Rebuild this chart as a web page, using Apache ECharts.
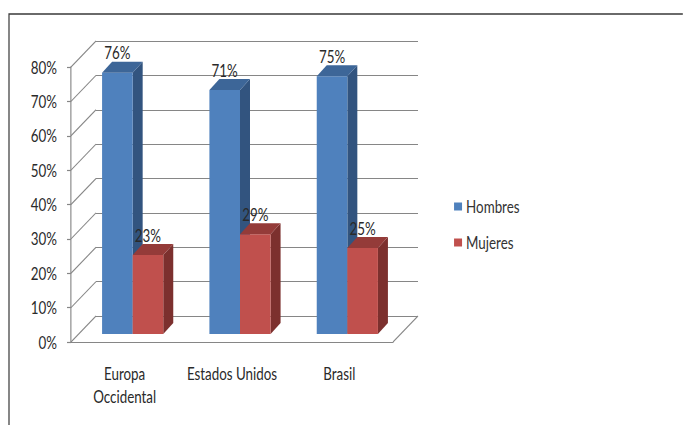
<!DOCTYPE html>
<html>
<head>
<meta charset="utf-8">
<script src="https://cdn.jsdelivr.net/npm/echarts@6/dist/echarts.min.js"></script>
<style>
  html, body { margin: 0; padding: 0; background: #fff; overflow: hidden; }
  /* the chart is laid out wide and squeezed horizontally, giving tall narrow lettering */
  #chart { width: 843px; height: 425px; transform: scaleX(0.81); transform-origin: 0 0; }
</style>
</head>
<body>
<div id="chart"></div>
<script>
// Categories and series values (percent)
const categories = ['Europa\nOccidental', 'Estados Unidos', 'Brasil'];
const hombres = [76, 71, 75];
const mujeres = [23, 29, 25];
const yTicks = [0, 10, 20, 30, 40, 50, 60, 70, 80];

const SX = 0.81;                 // horizontal squeeze applied by CSS
const px = x => x / SX;          // screen x distance -> layout x distance

const FONT = 'Lato, sans-serif';
const FONT_SIZE = 16.5;
const FONT_WEIGHT = 'normal';
const TEXT_COLOR = '#2a2a2a';
const GRID_COLOR = '#868686';
// depth of the back wall relative to the front axis plane
const WALL = [px(25), -26];
// bars sit a little behind the front plane, and have their own depth
const BAR_SHIFT = [px(8), -8];
const BAR_DEPTH = [px(10), -11];

const palette = {
  Hombres: { front: '#4F81BD', side: '#32547F', top: '#3D6698' },
  Mujeres: { front: '#C0504D', side: '#7C302E', top: '#943B39' }
};

const textStyle = { fontFamily: FONT, fontSize: FONT_SIZE, fontWeight: FONT_WEIGHT, color: TEXT_COLOR };

function bar3d(slot, colors) {
  return function (params, api) {
    const cat = api.value(0);
    const v = api.value(1);
    const base = api.coord([cat, 0]);
    const topPt = api.coord([cat, v]);
    const band = api.size([1, 0])[0];
    const w = band * 0.285;
    const cx = base[0] + BAR_SHIFT[0];
    const x0 = slot === 0 ? cx - w : cx;
    const yb = base[1] + BAR_SHIFT[1];
    const yt = topPt[1] + BAR_SHIFT[1];
    const dx = BAR_DEPTH[0], dy = BAR_DEPTH[1];
    return {
      type: 'group',
      children: [
        { type: 'polygon', shape: { points: [[x0 + w, yt], [x0 + w + dx, yt + dy], [x0 + w + dx, yb + dy], [x0 + w, yb]] },
          style: { fill: colors.side } },
        { type: 'rect', shape: { x: x0, y: yt, width: w, height: yb - yt },
          style: { fill: colors.front } },
        { type: 'polygon', shape: { points: [[x0, yt], [x0 + dx, yt + dy], [x0 + w + dx, yt + dy], [x0 + w, yt]] },
          style: { fill: colors.top } },
        { type: 'text', z2: 10, x: x0 + w / 2, y: yt - 20,
          style: { text: v + '%', align: 'center', verticalAlign: 'middle',
                   fontFamily: FONT, fontSize: FONT_SIZE, fontWeight: FONT_WEIGHT, fill: TEXT_COLOR } }
      ]
    };
  };
}

// side wall diagonals and the right edge of the floor
function wallLines(params, api) {
  const v = api.value(0);
  const cs = params.coordSys;
  const y = api.coord([0, v])[1];
  const lineStyle = { stroke: GRID_COLOR, lineWidth: 1.2 };
  const children = [
    { type: 'line', shape: { x1: cs.x, y1: y, x2: cs.x + WALL[0], y2: y + WALL[1] }, style: lineStyle }
  ];
  if (v === 0) {
    const xr = cs.x + cs.width;
    children.push({ type: 'line', shape: { x1: xr, y1: y, x2: xr + WALL[0], y2: y + WALL[1] }, style: lineStyle });
  }
  return { type: 'group', children: children };
}

const chart = echarts.init(document.getElementById('chart'), null, { renderer: 'svg' });

const front = { left: px(71), top: 67, width: px(322), height: 275 };

chart.setOption({
  backgroundColor: '#ffffff',
  animation: false,
  graphic: [
    { type: 'rect', z: -1, shape: { x: px(9), y: 14, width: 1000, height: 430 },
      style: { fill: 'none', stroke: '#3a3a3a', lineWidth: 1.5 } }
  ],
  legend: {
    orient: 'vertical',
    left: px(450),
    top: 193,
    itemWidth: px(8),
    itemHeight: 8,
    itemGap: 19,
    icon: 'rect',
    data: ['Hombres', 'Mujeres'],
    textStyle: Object.assign({}, textStyle, { color: '#333' })
  },
  grid: [
    { left: front.left, top: front.top, width: front.width, height: front.height },
    { left: front.left + WALL[0], top: front.top + WALL[1], width: front.width, height: front.height }
  ],
  xAxis: [
    {
      gridIndex: 0, type: 'category', data: categories, boundaryGap: true,
      axisLine: { lineStyle: { color: GRID_COLOR, width: 1.2 } },
      axisTick: { length: 6, lineStyle: { color: GRID_COLOR, width: 1.4 } },
      axisLabel: Object.assign({ interval: 0, margin: 20, lineHeight: 23 }, textStyle)
    },
    { gridIndex: 1, type: 'category', data: categories, show: false }
  ],
  yAxis: [
    {
      gridIndex: 0, type: 'value', min: 0, max: 80, interval: 10,
      axisLine: { show: true, lineStyle: { color: GRID_COLOR, width: 1.4 } },
      axisTick: { show: true, length: px(4), lineStyle: { color: GRID_COLOR, width: 1.2 } },
      splitLine: { show: false },
      axisLabel: Object.assign({ formatter: '{value}%', margin: px(14) }, textStyle)
    },
    {
      gridIndex: 1, type: 'value', min: 0, max: 80, interval: 10,
      axisLine: { show: false }, axisTick: { show: false }, axisLabel: { show: false },
      splitLine: { show: true, lineStyle: { color: GRID_COLOR, width: 1.2 } }
    }
  ],
  series: [
    {
      name: 'wall', type: 'custom', xAxisIndex: 0, yAxisIndex: 0, z: 1, silent: true,
      renderItem: wallLines,
      data: yTicks.map(v => [v]),
      encode: { y: 0 }
    },
    {
      name: 'Hombres', type: 'custom', xAxisIndex: 0, yAxisIndex: 0, z: 2,
      itemStyle: { color: palette.Hombres.front },
      renderItem: bar3d(0, palette.Hombres),
      data: hombres.map((v, i) => [i, v]),
      encode: { x: 0, y: 1 }
    },
    {
      name: 'Mujeres', type: 'custom', xAxisIndex: 0, yAxisIndex: 0, z: 3,
      itemStyle: { color: palette.Mujeres.front },
      renderItem: bar3d(1, palette.Mujeres),
      data: mujeres.map((v, i) => [i, v]),
      encode: { x: 0, y: 1 }
    }
  ]
});
</script>
</body>
</html>
